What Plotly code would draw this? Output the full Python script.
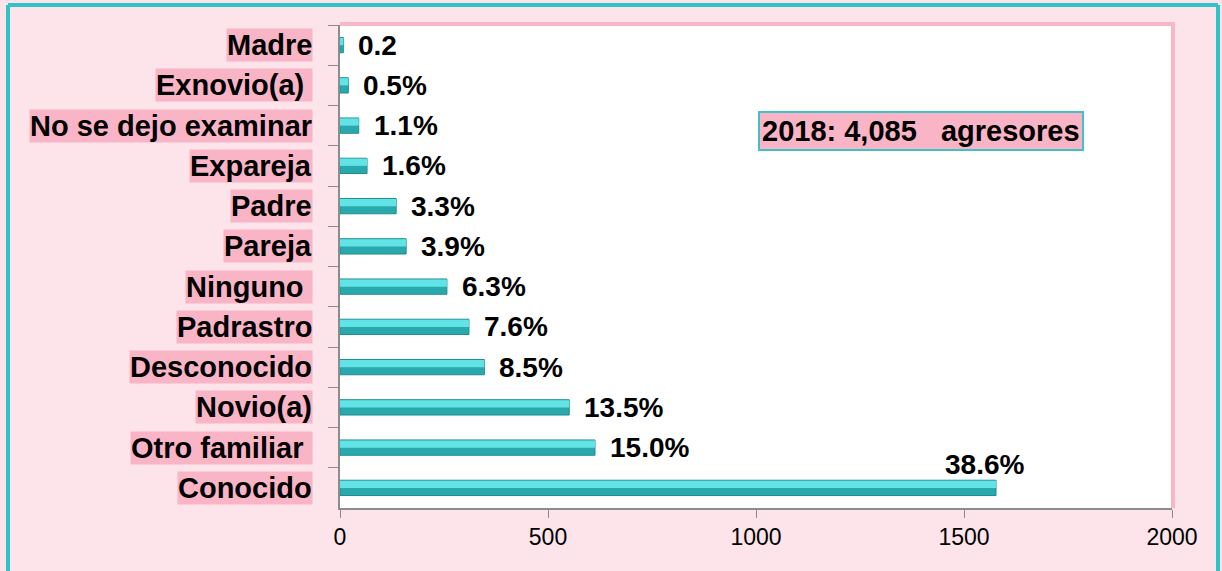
import plotly.graph_objects as go

# categorias de arriba hacia abajo
agresores = ["Madre", "Exnovio(a)\u00a0", "No se dejo examinar", "Expareja", "Padre", "Pareja",
             "Ninguno\u00a0", "Padrastro", "Desconocido", "Novio(a)", "Otro familiar\u00a0", "Conocido"]
casos = [8, 20, 45, 65, 135, 159, 257, 310, 347, 551, 613, 1577]
etiquetas = ["0.2", "0.5%", "1.1%", "1.6%", "3.3%", "3.9%", "6.3%", "7.6%", "8.5%", "13.5%", "15.0%", "38.6%"]
ticks_x = [0, 500, 1000, 1500, 2000]

W, H = 1222, 571
L, R, T, B = 340, 1172, 25, 508


def px_x(px):
    return (px - L) / (R - L)


def px_y(py):
    return (B - py) / (B - T)


fig = go.Figure()
fig.add_trace(go.Bar(
    y=agresores, x=casos, orientation="h", width=0.38,
    marker=dict(color="#2aa9ad", line=dict(color="#1f8d91", width=1)),
    hoverinfo="x+y",
))
fig.add_trace(go.Bar(
    y=agresores, x=casos, orientation="h", width=0.18, offset=-0.18,
    marker=dict(color="#62e3e6", line=dict(width=0)),
    hoverinfo="skip",
))

anotaciones = []
for cat, val, txt in zip(agresores, casos, etiquetas):
    # etiqueta de categoria con fondo rosa
    anotaciones.append(dict(
        x=0, xref="paper", y=cat, yref="y", text=cat, showarrow=False,
        xanchor="right", xshift=-27, bgcolor="#f9b4c6", borderpad=0,
        font=dict(family="Liberation Sans", size=29, color="black", weight="bold"),
    ))
    if cat == "Conocido":
        anotaciones.append(dict(
            x=val, y=cat, text=txt, showarrow=False, xanchor="center",
            xshift=-12, yshift=23,
            font=dict(family="Liberation Sans", size=28, color="black", weight="bold"),
        ))
    else:
        anotaciones.append(dict(
            x=val, y=cat, text=txt, showarrow=False, xanchor="left", xshift=13,
            font=dict(family="Liberation Sans", size=28, color="black", weight="bold"),
        ))

anotaciones.append(dict(
    x=px_x(921), xref="paper", y=px_y(131), yref="paper",
    xanchor="center", yanchor="middle",
    text="2018: 4,085\u00a0\u00a0\u00a0agresores", showarrow=False,
    bgcolor="#f9b4c6", bordercolor="#3ec1c9", borderwidth=2, borderpad=2,
    font=dict(family="Liberation Sans", size=29, color="black", weight="bold"),
))

formas = [
    # marco turquesa exterior
    dict(type="line", xref="paper", yref="paper", x0=px_x(8), x1=px_x(8), y0=px_y(5), y1=px_y(575),
         line=dict(color="#2ec4c9", width=4)),
    dict(type="line", xref="paper", yref="paper", x0=px_x(8), x1=px_x(1218), y0=px_y(5), y1=px_y(5),
         line=dict(color="#2ec4c9", width=4)),
    dict(type="line", xref="paper", yref="paper", x0=px_x(1218), x1=px_x(1218), y0=px_y(5), y1=px_y(575),
         line=dict(color="#2ec4c9", width=4)),
    # borde rosa del area de trazado
    dict(type="line", xref="paper", yref="paper", x0=0, x1=px_x(1175), y0=px_y(24), y1=px_y(24),
         line=dict(color="#f7b7c8", width=4)),
    dict(type="line", xref="paper", yref="paper", x0=px_x(1173), x1=px_x(1173), y0=px_y(23), y1=px_y(508),
         line=dict(color="#f7b7c8", width=4)),
]

fig.update_layout(
    width=W, height=H,
    margin=dict(l=L, r=W - R, t=T, b=H - B),
    paper_bgcolor="#fde4ea",
    plot_bgcolor="white",
    barmode="overlay",
    showlegend=False,
    annotations=anotaciones,
    shapes=formas,
    xaxis=dict(
        range=[0, 2000], tickvals=ticks_x, showgrid=False, zeroline=False,
        showline=True, linecolor="#8c8c8c", linewidth=1.5,
        ticks="outside", ticklen=8, tickcolor="#8c8c8c",
        tickfont=dict(family="Liberation Sans", size=23, color="black"),
    ),
    yaxis=dict(
        range=[len(agresores) - 0.5, -0.5], showticklabels=False, showgrid=False,
        showline=True, linecolor="#8c8c8c", linewidth=1.5,
        ticks="outside", tickson="boundaries", ticklen=10, tickcolor="#8c8c8c",
    ),
)

# quitar el margen del body para que la figura empiece en (0, 0)
fig.write_html("out.html", post_script="document.body.style.margin='0';",
               config={"displayModeBar": False})
